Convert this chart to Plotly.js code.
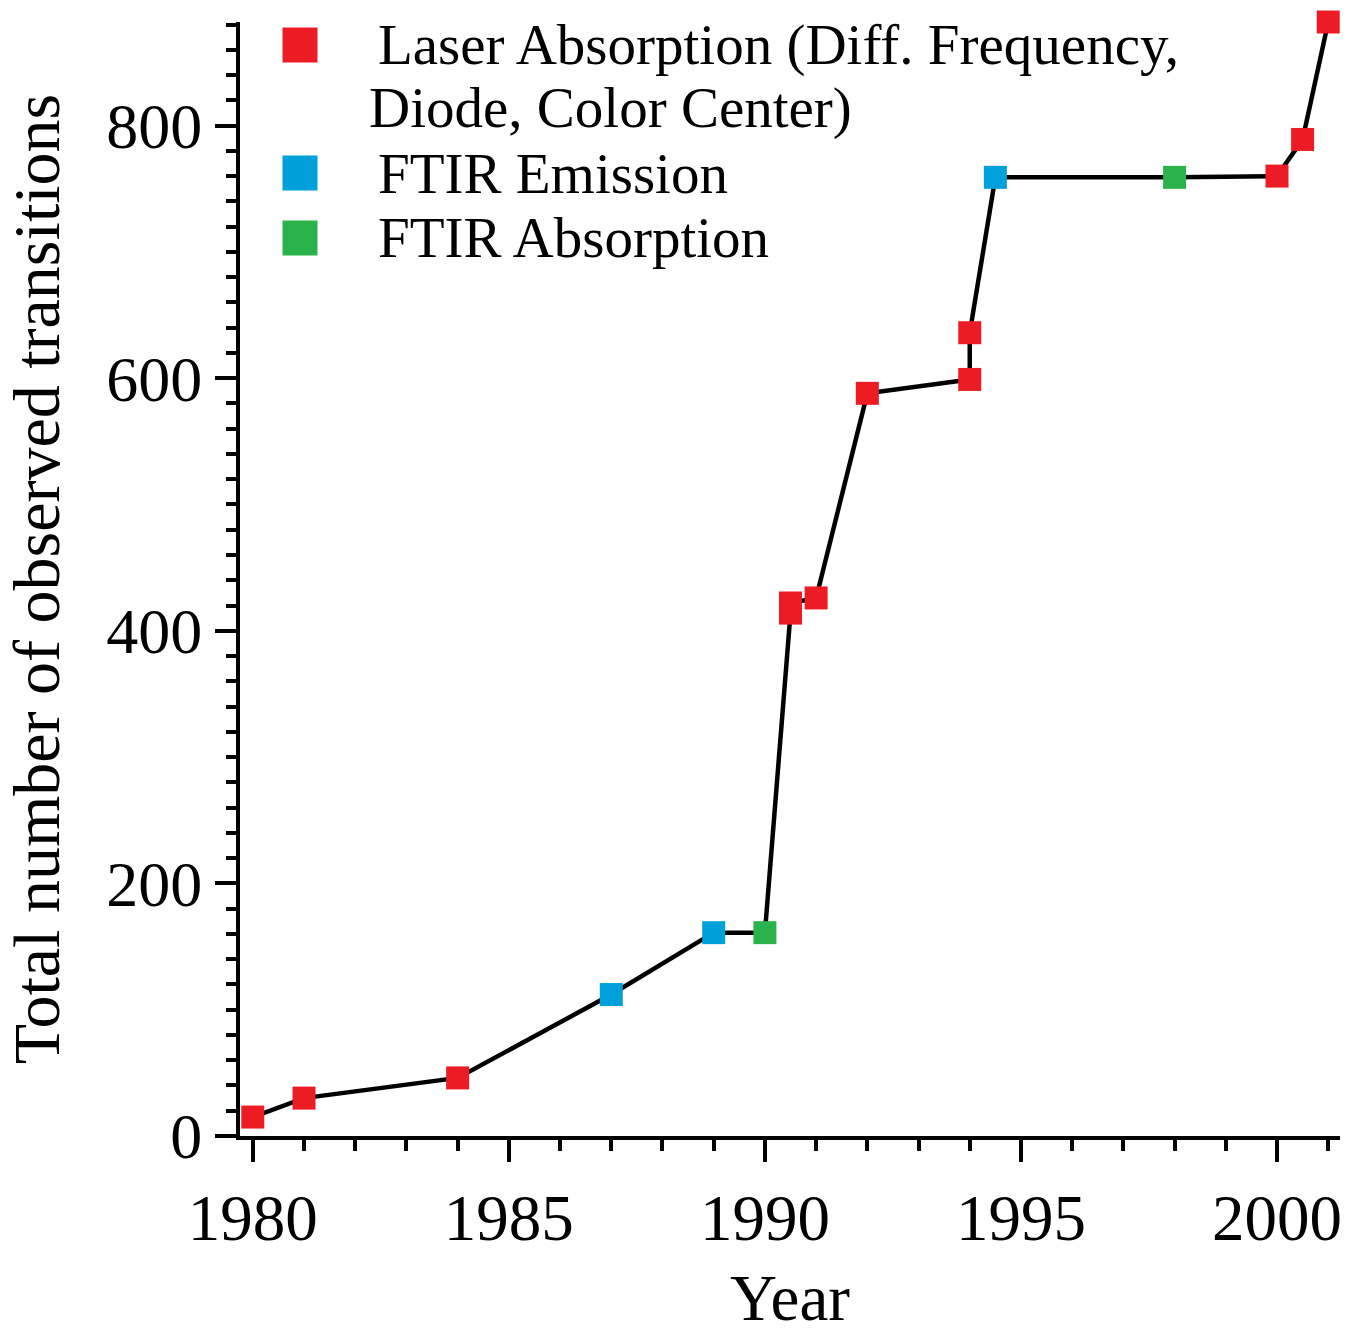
<!DOCTYPE html>
<html>
<head>
<meta charset="utf-8">
<script src="https://cdn.plot.ly/plotly-3.0.1.min.js"></script>
<style>html,body{margin:0;padding:0;background:#fff;}#chart{width:1349px;height:1334px;}</style>
</head>
<body>
<div id="chart"></div>
<script>
// Data
const seriesNames = ["Laser Absorption (Diff. Frequency,", "Diode, Color Center)", "FTIR Emission", "FTIR Absorption"];
const laserYears = [1980, 1981, 1984, 1990.5, 1990.5, 1991, 1992, 1994, 1994, 2000, 2000.5, 2001];
const laserCounts = [15, 30, 46, 414, 422, 426, 588, 599, 636, 760, 789, 882];
const emissionYears = [1987, 1989, 1994.5];
const emissionCounts = [112, 161, 759];
const absorptionYears = [1990, 1998];
const absorptionCounts = [161, 759];
const xTickVals = [1980, 1985, 1990, 1995, 2000];
const yTickVals = [0, 200, 400, 600, 800];

const colors = {laser: '#ED1C24', emission: '#00A1DA', absorption: '#2AB34A'};
const FONT = '"Liberation Serif", "Times New Roman", serif';

// combined cumulative line through all points
const all = [];
laserYears.forEach((x, i) => all.push([x, laserCounts[i]]));
emissionYears.forEach((x, i) => all.push([x, emissionCounts[i]]));
absorptionYears.forEach((x, i) => all.push([x, absorptionCounts[i]]));
all.sort((a, b) => a[0] - b[0] || a[1] - b[1]);

const mk = (c) => ({symbol: 'square', size: 23, color: c, line: {width: 0}});

const traces = [
  {x: all.map(p => p[0]), y: all.map(p => p[1]), mode: 'lines', line: {color: '#000', width: 4.5}, showlegend: false, cliponaxis: false},
  {x: laserYears, y: laserCounts, mode: 'markers', marker: mk(colors.laser), name: seriesNames[0], cliponaxis: false},
  {x: emissionYears, y: emissionCounts, mode: 'markers', marker: mk(colors.emission), name: seriesNames[2], cliponaxis: false},
  {x: absorptionYears, y: absorptionCounts, mode: 'markers', marker: mk(colors.absorption), name: seriesNames[3], cliponaxis: false}
];

// custom legend (pixel geometry -> paper coords)
const L = 240, T = 22, W = 1100, H = 1114;
const px = (x) => (x - L) / W;
const py = (y) => (T + H - y) / H;
const legendItems = [
  {c: colors.laser, y: 45}, {c: colors.emission, y: 173}, {c: colors.absorption, y: 238}
];
const shapes = legendItems.map(it => ({
  type: 'rect', xref: 'paper', yref: 'paper', xsizemode: 'pixel', ysizemode: 'pixel',
  xanchor: px(300), yanchor: py(it.y), x0: -17.5, x1: 17.5, y0: -17.5, y1: 17.5,
  fillcolor: it.c, line: {width: 0}
}));
const textLines = [
  {t: seriesNames[0], x: 376, y: 45}, {t: seriesNames[1], x: 367, y: 108},
  {t: seriesNames[2], x: 376, y: 173}, {t: seriesNames[3], x: 376, y: 238}
];
const annotations = textLines.map(l => ({
  xref: 'paper', yref: 'paper', x: px(l.x), y: py(l.y), xanchor: 'left', yanchor: 'middle',
  text: l.t, showarrow: false, font: {family: FONT, size: 57, color: '#000'}
}));

const layout = {
  width: 1349, height: 1334,
  margin: {l: L, r: 9, t: T, b: 198},
  paper_bgcolor: '#fff', plot_bgcolor: '#fff',
  showlegend: false,
  font: {family: FONT, color: '#000'},
  xaxis: {
    range: [1979.75, 2001.23], showgrid: false, zeroline: false,
    showline: true, linecolor: '#000', linewidth: 4,
    tickmode: 'array', tickvals: xTickVals, ticktext: xTickVals.map(String),
    ticks: 'outside', ticklen: 22, tickwidth: 4, tickcolor: '#000',
    tickfont: {family: FONT, size: 65, color: '#000'},
    minor: {dtick: 1, ticks: 'outside', ticklen: 11, tickwidth: 4, tickcolor: '#000', showgrid: false},
    title: {text: 'Year', font: {family: FONT, size: 65, color: '#000'}, standoff: 32},
    automargin: false
  },
  yaxis: {
    range: [0, 882], showgrid: false, zeroline: false,
    showline: true, linecolor: '#000', linewidth: 4,
    tickmode: 'array', tickvals: yTickVals, ticktext: yTickVals.map(String),
    ticks: 'outside', ticklen: 21, tickwidth: 4, tickcolor: '#000',
    tickfont: {family: FONT, size: 64, color: '#000'},
    minor: {dtick: 20, ticks: 'outside', ticklen: 10, tickwidth: 4, tickcolor: '#000', showgrid: false},
    title: {text: 'Total number of observed transitions', font: {family: FONT, size: 66, color: '#000'}, standoff: 30},
    automargin: false
  },
  shapes: shapes,
  annotations: annotations
};

Plotly.newPlot('chart', traces, layout, {staticPlot: true, displayModeBar: false});
</script>
</body>
</html>
